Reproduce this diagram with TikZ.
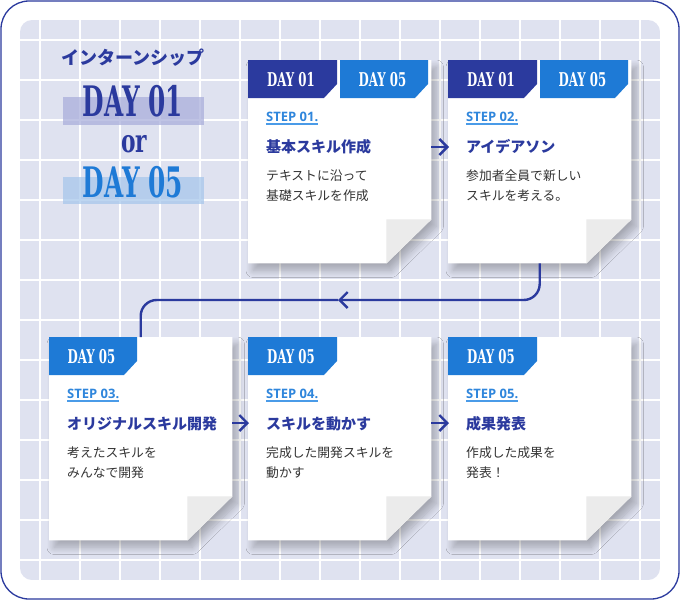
\documentclass[tikz,border=0pt]{standalone}
\usepackage{fontspec}
\usepackage{graphicx}
\usetikzlibrary{arrows.meta,shadows.blur}
\newfontfamily\jp{Noto Sans CJK JP}
\newfontfamily\dayf{DejaVu Serif}
\newfontfamily\stepf{Open Sans}
\definecolor{navy}{HTML}{2B3A9E}
\definecolor{azure}{HTML}{1E7AD6}
\definecolor{stepc}{HTML}{2F86DC}
\definecolor{ulc}{HTML}{4A9BE8}
\definecolor{panelc}{HTML}{DFE2F0}
\definecolor{foldc}{HTML}{EBEBEB}
\definecolor{bodyc}{HTML}{333333}
\definecolor{hlone}{HTML}{AAAFDB}
\definecolor{hltwo}{HTML}{A7C7EB}
\tikzset{
  conn/.style={draw=navy, line width=2.4pt},
  arr/.style={conn, -{Straight Barb[length=8pt,width=16pt]}},
  cardbox/.style={minimum width=183pt, minimum height=203pt, inner sep=0pt, anchor=north west},
  cardshape/.style={fill=white, blur shadow={shadow xshift=5pt, shadow yshift=-7pt, shadow blur radius=7pt, shadow blur steps=12, shadow opacity=26}},
  steplbl/.style={anchor=base west, inner sep=0pt, text=stepc, font=\stepf\bfseries\fontsize{13}{14}\selectfont},
  titlelbl/.style={anchor=west, inner sep=0pt, text=navy, font=\jp\bfseries\fontsize{15}{18}\selectfont},
  bodylbl/.style={anchor=west, inner sep=0pt, text=bodyc, font=\jp\fontsize{12.8}{15}\selectfont},
  tabtext/.style={text=white, inner sep=0pt, font=\dayf\bfseries\fontsize{19}{19}\selectfont},
  bigday/.style={inner sep=0pt, font=\dayf\bfseries\fontsize{42}{42}\selectfont},
}
% #1 name, #2 L, #3 T, #4 step, #5 title, #6 line1, #7 line2
\newcommand\drawcard[7]{%
  \node[cardbox] (#1) at (#2,#3) {};
  \path[cardshape] (#1.north west) -- (#1.north east) -- ([yshift=44pt]#1.south east)
     -- ([xshift=-45pt]#1.south east) -- (#1.south west) -- cycle;
  \fill[foldc] ([xshift=-45pt,yshift=44pt]#1.south east) -- ([yshift=44pt]#1.south east)
     -- ([xshift=-45pt]#1.south east) -- cycle;
  \node[steplbl] (#1s) at ([xshift=18pt,yshift=-61.5pt]#1.north west) {#4};
  \draw[ulc, line width=1.2pt] ([yshift=-2.5pt]#1s.base west) -- ([yshift=-2.5pt]#1s.base east);
  \node[titlelbl] (#1t) at ([xshift=18pt,yshift=-87pt]#1.north west) {#5};
  \node[bodylbl] (#1a) at ([xshift=18pt,yshift=-116pt]#1.north west) {#6};
  \node[bodylbl] (#1b) at ([xshift=18pt,yshift=-136pt]#1.north west) {#7};
}
% tab: #1 name, #2 x1, #3 y1, #4 x2, #5 colour, #6 text
\newcommand\drawtab[6]{%
  \fill[#5] (#2,#3) -- (#4,#3) -- (#4,#3+24) -- (#4-13,#3+38) -- (#2,#3+38) -- cycle;
  \node[tabtext] (#1) at ({(#2+#4)/2-1.5},#3+20) {\scalebox{0.62}[1]{#6}};
}
\begin{document}
\begin{tikzpicture}[x=1pt,y=-1pt]
\useasboundingbox (0,0) rectangle (680,600);
\fill[white] (0,0) rectangle (680,600);
\draw[navy, line width=1.3pt, rounded corners=28pt] (1,1) rectangle (679,599);
\begin{scope}
  \clip[rounded corners=12pt] (20,20) rectangle (660,580);
  \fill[panelc] (20,20) rectangle (660,580);
  \foreach \x in {40,80,...,640} \draw[white, line width=1.5pt] (\x,20) -- (\x,580);
  \foreach \y in {40,80,...,560} \draw[white, line width=1.5pt] (20,\y) -- (660,\y);
\end{scope}
% heading
\node[text=navy, inner sep=0pt, font=\jp\bfseries\fontsize{18}{20}\selectfont] (head) at (133,58) {インターンシップ};
\fill[hlone, opacity=0.75] (63,97) rectangle (204,125);
\fill[hltwo, opacity=0.75] (63,177) rectangle (204,204);
\node[bigday, text=navy] (big1) at (133,101.5) {\scalebox{0.59}[1]{DAY 01}};
\node[inner sep=0pt, text=navy, font=\dayf\bfseries\fontsize{32}{32}\selectfont] (orr) at (134,144) {\scalebox{0.68}[1]{or}};
\node[bigday, text=azure] (big2) at (133,182) {\scalebox{0.59}[1]{DAY 05}};
% cards
\drawcard{c1}{248}{60}{STEP 01.}{基本スキル作成}{テキストに沿って}{基礎スキルを作成}
\drawtab{t1a}{248}{60}{337}{navy}{DAY 01}
\drawtab{t1b}{340}{60}{428}{azure}{DAY 05}
\drawcard{c2}{448}{60}{STEP 02.}{アイデアソン}{参加者全員で新しい}{スキルを考える。}
\drawtab{t2a}{448}{60}{537}{navy}{DAY 01}
\drawtab{t2b}{540}{60}{628}{azure}{DAY 05}
\drawcard{c3}{49}{337}{STEP 03.}{オリジナルスキル開発}{考えたスキルを}{みんなで開発}
\drawtab{t3}{49}{337}{137}{azure}{DAY 05}
\drawcard{c4}{248}{337}{STEP 04.}{スキルを動かす}{完成した開発スキルを}{動かす}
\drawtab{t4}{248}{337}{337}{azure}{DAY 05}
\drawcard{c5}{448}{337}{STEP 05.}{成果発表}{作成した成果を}{発表！}
\drawtab{t5}{448}{337}{537}{azure}{DAY 05}
% connectors
\draw[arr] ([yshift=-87pt]c1.north east) -- ([xshift=1pt,yshift=-87pt]c2.north west);
\draw[arr] ([yshift=-86pt]c3.north east) -- ([xshift=1pt,yshift=-86pt]c4.north west);
\draw[arr] ([yshift=-86pt]c4.north east) -- ([xshift=1pt,yshift=-86pt]c5.north west);
\coordinate (mid) at (338,300);
\draw[arr, rounded corners=16pt] (c2.south) |- (mid);
\draw[conn, rounded corners=16pt] (mid) -| (c3.north);
\end{tikzpicture}
\end{document}
